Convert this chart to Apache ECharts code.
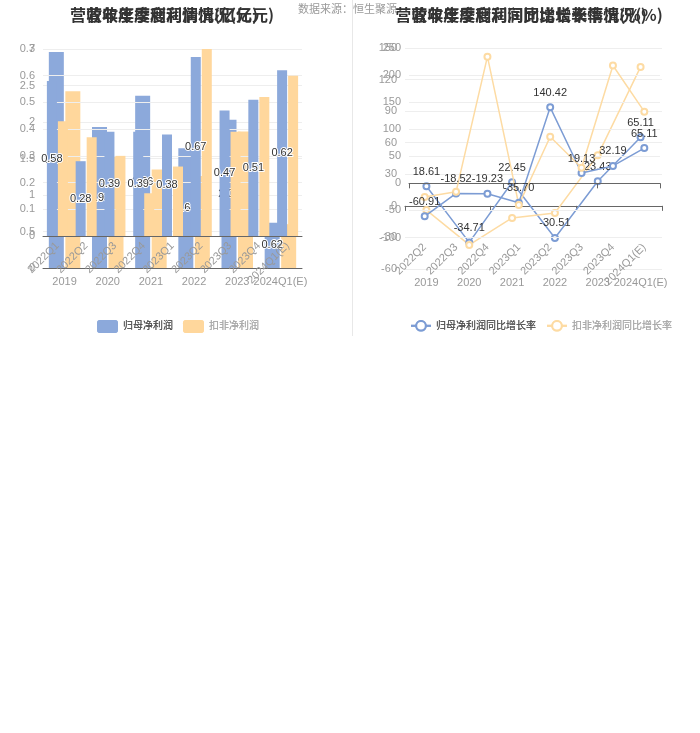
<!DOCTYPE html>
<html><head><meta charset="utf-8">
<script src="https://cdn.jsdelivr.net/npm/echarts@6/dist/echarts.min.js"></script>
<style>
body{margin:0;background:#fff;width:700px;height:733px;position:relative;overflow:hidden}
.c{position:absolute;left:0;top:0;width:700px;height:340px}
#divider{position:absolute;left:352px;top:0;width:1px;height:336px;background:#e8e8e8}
</style></head><body>
<div id="divider"></div>
<div class="c" id="la"></div>
<div class="c" id="lq"></div>
<div class="c" id="ra"></div>
<div class="c" id="rq"></div>
<script>
// ---------- data ----------
const years = ['2019','2020','2021','2022','2023','2024Q1(E)'];
const quarters = ['2022Q1','2022Q2','2022Q3','2022Q4','2023Q1','2023Q2','2023Q3','2023Q4','2024Q1(E)'];
const growthQuarters = ['2022Q2','2022Q3','2022Q4','2023Q1','2023Q2','2023Q3','2023Q4','2024Q1(E)'];
const annualNetProfit      = [2.96, 1.93, 2.36, 1.64, 2.03, 0.62];
const annualDeductedProfit = [2.42, 1.52, 1.35, 1.26, 1.87, 0.60];
const quarterNetProfit      = [0.58, 0.28, 0.39, 0.39, 0.38, 0.67, 0.47, 0.51, 0.62];
const quarterDeductedProfit = [0.43, 0.37, 0.30, 0.16, 0.26, 0.70, 0.39, 0.52, 0.60];
const annualNetGrowth      = [18.61, -34.71, 22.45, -30.51, 23.43, 65.11];
const annualDeductedGrowth = [-4.0, -37.1, -11.5, -6.8, 48.0, 132.0];
const quarterNetGrowth      = [-60.91, -18.52, -19.23, -35.70, 140.42, 19.13, 32.19, 65.11];
const quarterDeductedGrowth = [-25.0, -15.7, 234.0, -39.8, 86.0, 28.7, 217.6, 132.4];
const barNames = ['归母净利润','扣非净利润'];
const lineNames = ['归母净利润同比增长率','扣非净利润同比增长率'];
const titles = {
  leftAnnual: '营收年度利润情况(亿元)',
  leftQuarter: '营收年度季度利润情况(亿元)',
  rightAnnual: '营收年度利润同比增长率情况(%)',
  rightQuarter: '营收年度季度利润同比增长率情况(%)'
};
const sourceText = '数据来源：恒生聚源';

// ---------- styles ----------
const BLUE = '#8CA9DB', YELLOW = '#FFD79C';
const LBLUE = '#7C9CD4', LYELLOW = '#FDDBA3';
const FONT = '"Liberation Sans","Noto Sans CJK SC",sans-serif';
const axisLabelStyle = {color:'#999', fontSize:11, fontFamily:FONT};
const titleStyle = {fontSize:16, fontWeight:'bold', color:'#333', fontFamily:'"Noto Sans CJK SC",sans-serif'};

function mk(id){ return echarts.init(document.getElementById(id), null, {renderer:'canvas'}); }

function legendData(names){
  return [{name:names[0], textStyle:{color:'#555'}}, {name:names[1], textStyle:{color:'#aaa'}}];
}

function barOption(cfg){
  return {
    animation:false,
    title:{text:cfg.title, left:cfg.titleX, textAlign:'center', top:2, textStyle:titleStyle},
    graphic: cfg.graphic || [],
    legend:{left:92, top:315, itemWidth:21, itemHeight:13, itemGap:10,
      textStyle:{fontSize:10, fontFamily:FONT}, data:legendData(barNames)},
    grid:{left:43, right:398, top:49, bottom:cfg.bottom},
    xAxis:{type:'category', data:cfg.cats,
      axisLine:{lineStyle:{color:'#666'}}, axisTick:{lineStyle:{color:'#666'}},
      axisLabel:Object.assign({margin:8, interval:0, rotate:cfg.rotate||0}, axisLabelStyle)},
    yAxis:{type:'value', min:0, max:cfg.max, interval:cfg.interval,
      axisLine:{show:false}, axisTick:{show:false},
      axisLabel:axisLabelStyle, splitLine:{lineStyle:{color:'#eee'}}},
    series:[
      {name:barNames[0], type:'bar', data:cfg.blue, itemStyle:{color:BLUE},
       label:{show:true, position:'inside', color:'#333', fontSize:11, fontFamily:FONT,
              textBorderColor:'#fff', textBorderWidth:2,
              formatter:p=>p.value.toFixed(2)}},
      {name:barNames[1], type:'bar', data:cfg.yellow, itemStyle:{color:YELLOW}}
    ]
  };
}

function lineOption(cfg){
  return {
    animation:false,
    title:{text:cfg.title, left:524, textAlign:'center', top:2, textStyle:titleStyle},
    legend:{left:405, top:315, itemWidth:20, itemHeight:12, itemGap:10,
      textStyle:{fontSize:10, fontFamily:FONT}, data:legendData(lineNames)},
    grid:{left:cfg.left, right:cfg.right, top:48, bottom:cfg.bottom},
    xAxis:[
      {type:'category', data:cfg.cats, axisLine:{show:false, onZero:false}, axisTick:{show:false},
       axisLabel:Object.assign({margin:8, interval:0, rotate:cfg.rotate||0}, axisLabelStyle)},
      {type:'category', data:cfg.cats, position:'bottom',
       axisLine:{onZero:true, lineStyle:{color:'#666'}},
       axisTick:{show:true, lineStyle:{color:'#666'}}, axisLabel:{show:false}}
    ],
    yAxis:{type:'value', min:cfg.min, max:cfg.max, interval:cfg.interval,
      axisLine:{show:false}, axisTick:{show:false},
      axisLabel:axisLabelStyle, splitLine:{lineStyle:{color:'#eee'}}},
    series:[
      {name:lineNames[0], type:'line', data:cfg.blue, xAxisIndex:0,
       symbol:'emptyCircle', symbolSize:6, lineStyle:{color:LBLUE, width:1.5},
       itemStyle:{color:LBLUE},
       label:{show:true, position:'top', color:'#333', fontSize:11, fontFamily:FONT,
              formatter:p=>p.value.toFixed(2)}},
      {name:lineNames[1], type:'line', data:cfg.yellow, xAxisIndex:0,
       symbol:'emptyCircle', symbolSize:6, lineStyle:{color:LYELLOW, width:1.5},
       itemStyle:{color:LYELLOW}}
    ]
  };
}

mk('la').setOption(barOption({
  title:titles.leftAnnual, titleX:167, cats:years, blue:annualNetProfit, yellow:annualDeductedProfit,
  bottom:72, max:3, interval:0.5,
  graphic:[{type:'text', left:298, top:4, style:{text:sourceText, fill:'#999', fontSize:11, fontFamily:FONT}}]
}));
mk('lq').setOption(barOption({
  title:titles.leftQuarter, titleX:167, cats:quarters, blue:quarterNetProfit, yellow:quarterDeductedProfit,
  bottom:104, max:0.7, interval:0.1, rotate:45
}));
mk('ra').setOption(lineOption({
  title:titles.rightAnnual, cats:years, blue:annualNetGrowth, yellow:annualDeductedGrowth,
  left:405, right:38, bottom:71, min:-60, max:150, interval:30
}));
mk('rq').setOption(lineOption({
  title:titles.rightQuarter, cats:growthQuarters, blue:quarterNetGrowth, yellow:quarterDeductedGrowth,
  left:409, right:40, bottom:102.5, min:-100, max:250, interval:50, rotate:45
}));
</script>
</body></html>
